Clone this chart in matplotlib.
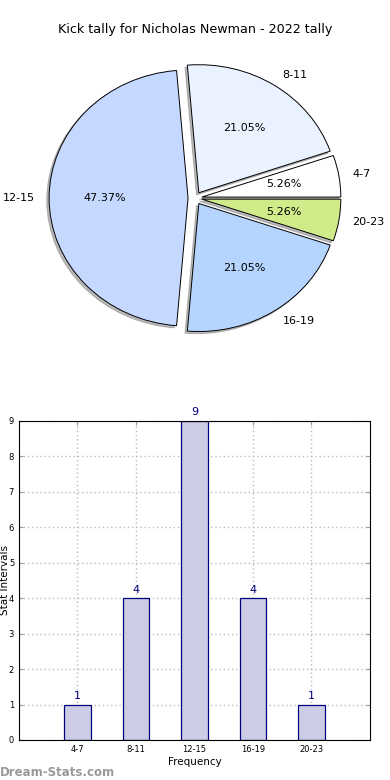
import matplotlib
matplotlib.use("Agg")
import matplotlib.pyplot as plt

# kick tally data
intervals = ['4-7', '8-11', '12-15', '16-19', '20-23']
counts = [1, 4, 9, 4, 1]
pie_colors = ['#FFFFFF', '#EAF1FF', '#C5D8FF', '#B5D5FF', '#D0EC8A']
explode = [0.05, 0.05, 0.05, 0.05, 0.05]

fig = plt.figure(figsize=(3.9, 7.8), dpi=100)

# pie on top (old style, not equal aspect)
ax1 = fig.add_axes([0.06, 0.549, 0.88, 0.394])
wedges, texts, autotexts = ax1.pie(counts, labels=intervals, colors=pie_colors,
                                   explode=explode, autopct='%.2f%%',
                                   shadow={'ox': -0.012, 'oy': -0.012, 'color': '#777777'},
                                   startangle=0, counterclock=True,
                                   wedgeprops={'edgecolor': 'black', 'linewidth': 0.7},
                                   textprops={'fontsize': 8})
for t in texts:
    t.set_horizontalalignment('left' if t.get_position()[0] > 0 else 'right')
ax1.set_aspect('auto')
ax1.set_xlim(-1.235, 1.235)
ax1.set_ylim(-1.2, 1.2)
ax1.axis('off')

fig.text(0.5, 1 - 30 / 780, 'Kick tally for Nicholas Newman - 2022 tally',
         ha='center', va='center', fontsize=9.2)

# bar chart below
ax2 = fig.add_axes([0.0487, 0.0513, 0.9, 0.409])
xpos = list(range(1, len(intervals) + 1))
ax2.bar(xpos, counts, width=0.45, color='#CCCCE5', edgecolor='#000080', linewidth=0.9, zorder=2)
for x, c in zip(xpos, counts):
    ax2.text(x, c + 0.1, str(c), ha='center', va='bottom', color='#000080', fontsize=8)
ax2.set_xlim(0, 6)
ax2.set_ylim(0, 9)
ax2.set_xticks(xpos)
ax2.set_xticklabels(intervals)
ax2.set_yticks(range(0, 10))
ax2.tick_params(labelsize=6, direction='in', top=True, right=True, length=3, color='#999999')
ax2.grid(True, linestyle=(0, (1, 2)), color='#BBBBBB', linewidth=1, zorder=0)
ax2.set_xlabel('Frequency', fontsize=7.5, labelpad=2)
ax2.set_ylabel('Stat Intervals', fontsize=7.5)
ax2.yaxis.set_label_coords(-0.027, 0.5)

fig.text(0.0, 0.5 / 780, 'Dream-Stats.com', color='#999999', fontsize=8.5,
         ha='left', va='bottom', fontweight='semibold')

fig.savefig('out.png', dpi=100)
